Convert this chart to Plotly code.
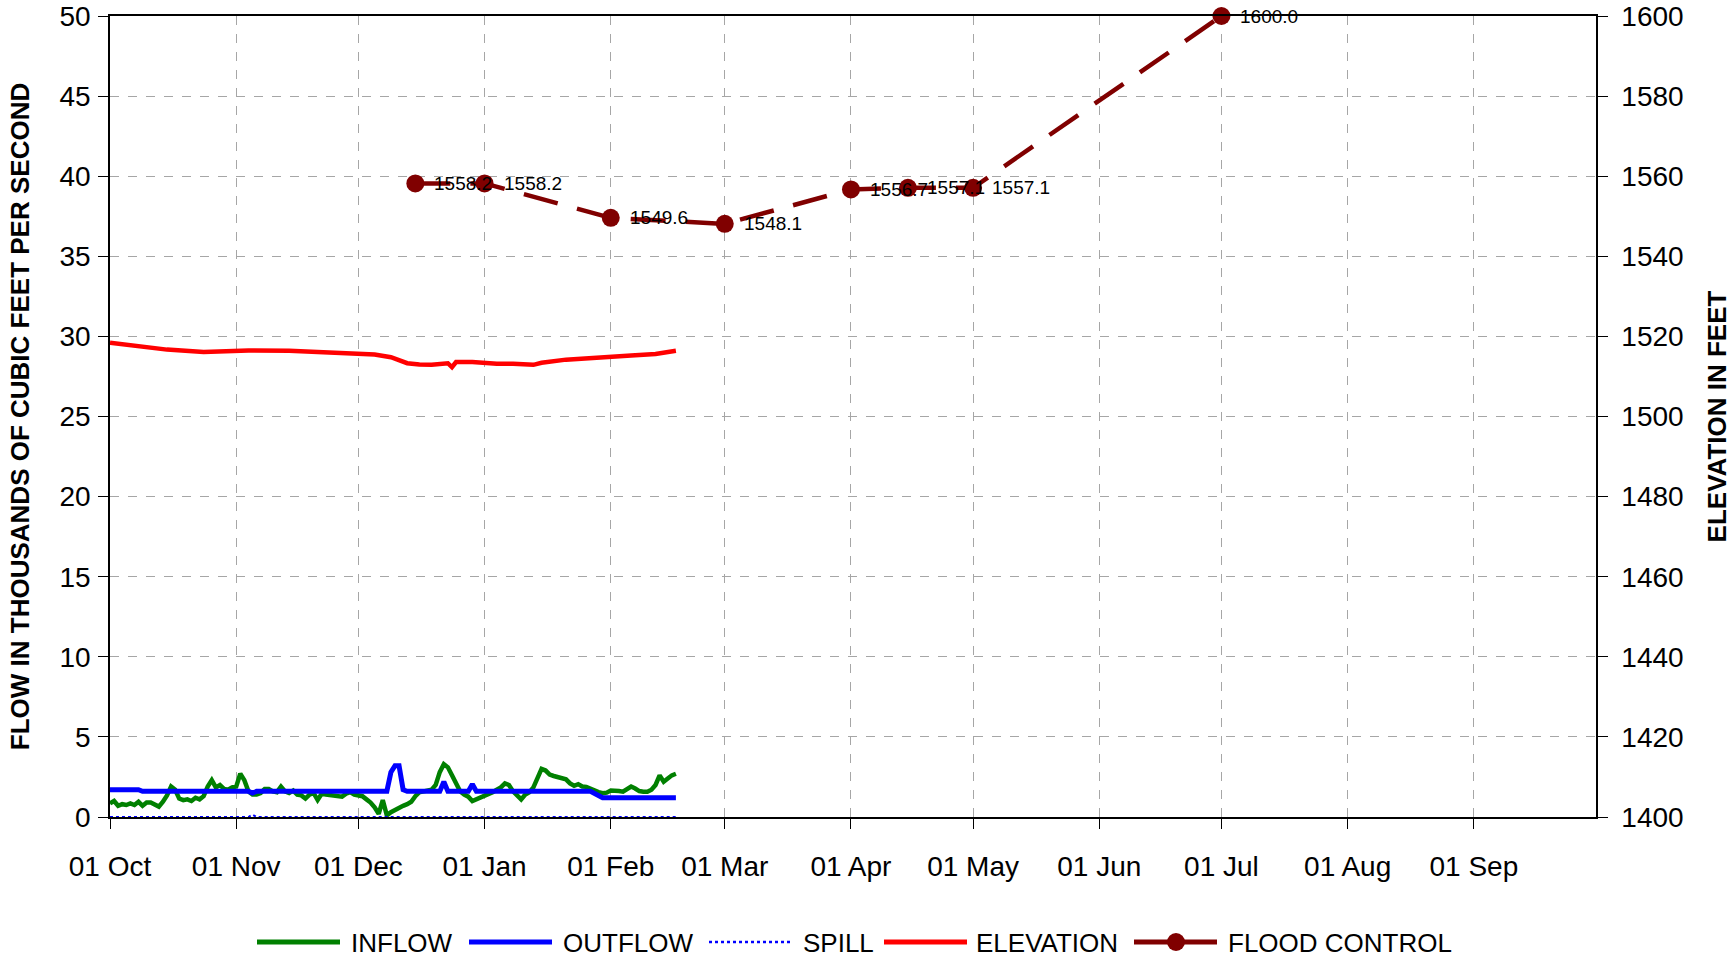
import pandas as pd
import plotly.graph_objects as go

# ---------------- data ----------------
inflow_start = "2014-10-01"
inflow = [
    0.85, 1.0, 0.7, 0.8, 0.75, 0.85, 0.75, 0.95, 0.7, 0.9,
    0.9, 0.75, 0.65, 0.95, 1.35, 1.9, 1.7, 1.15, 1.05, 1.1,
    1.0, 1.2, 1.1, 1.3, 1.9, 2.3, 1.85, 2.0, 1.75, 1.7,
    1.85, 1.9, 2.7, 2.3, 1.6, 1.4, 1.4, 1.5, 1.75, 1.75,
    1.6, 1.55, 1.9, 1.6, 1.5, 1.65, 1.4, 1.35, 1.15,
    1.4, 1.5, 1.06, 1.45, 1.4, 1.35, 1.3, 1.27, 1.27, 1.45, 1.55,
    1.4, 1.35, 1.3, 1.1, 0.9, 0.6, 0.2, 1.05, 0.1, 0.3,
    0.45, 0.55, 0.7, 0.8, 0.95, 1.3, 1.55, 1.6, 1.65, 1.7,
    2.0, 2.8, 3.3, 3.1, 2.6, 2.1, 1.6, 1.4, 1.27, 1.0,
    1.1, 1.2, 1.35, 1.4, 1.55, 1.7, 1.85, 2.1, 2.0, 1.6,
    1.3, 1.1, 1.4, 1.55, 1.85, 2.4, 3.0, 2.9, 2.65, 2.56,
    2.5, 2.45, 2.35, 2.1, 1.95, 2.05, 1.9, 1.88, 1.75, 1.62,
    1.55, 1.48, 1.52, 1.65, 1.66, 1.62, 1.58, 1.72, 1.9, 1.78,
    1.62, 1.58, 1.58, 1.7, 2.0, 2.6, 2.2, 2.4, 2.6, 2.7,
]

outflow_dates = [
    "2014-10-01", "2014-10-08", "2014-10-09", "2014-11-04", "2014-11-05",
    "2014-11-06", "2014-12-08", "2014-12-09", "2014-12-10", "2014-12-11",
    "2014-12-12", "2014-12-13", "2014-12-21", "2014-12-22", "2014-12-23",
    "2014-12-28", "2014-12-29", "2014-12-30", "2015-01-27", "2015-01-28",
    "2015-01-29", "2015-01-30", "2015-02-17",
]
outflow = [
    1.7, 1.7, 1.6, 1.6, 1.5,
    1.6, 1.6, 2.8, 3.2, 3.2,
    1.7, 1.6, 1.6, 2.2, 1.6,
    1.6, 2.05, 1.6, 1.6, 1.45,
    1.3, 1.2, 1.2,
]

spill_dates = ["2014-10-01", "2014-11-04", "2014-11-05", "2014-11-06", "2015-02-17"]
spill = [0.0, 0.0, 0.15, 0.0, 0.0]

elev_dates = [
    "2014-10-01", "2014-10-08", "2014-10-15", "2014-10-24", "2014-11-01",
    "2014-11-04", "2014-11-14", "2014-11-22", "2014-12-01", "2014-12-05",
    "2014-12-09", "2014-12-11", "2014-12-13", "2014-12-16", "2014-12-19",
    "2014-12-23", "2014-12-24", "2014-12-25", "2014-12-29", "2015-01-04",
    "2015-01-08", "2015-01-13", "2015-01-15", "2015-01-21", "2015-01-29",
    "2015-02-06", "2015-02-12", "2015-02-17",
]
elevation = [
    1518.4, 1517.5, 1516.7, 1516.1, 1516.25,
    1516.5, 1516.4, 1516.0, 1515.7, 1515.5,
    1514.8, 1514.0, 1513.3, 1513.0, 1512.9,
    1513.3, 1512.3, 1513.6, 1513.6, 1513.2,
    1513.2, 1512.9, 1513.4, 1514.2, 1514.6,
    1515.2, 1515.6, 1516.4,
]

flood_dates = ["2014-12-15", "2015-01-01", "2015-02-01", "2015-03-01",
               "2015-04-01", "2015-04-15", "2015-05-01", "2015-07-01"]
flood = [1558.2, 1558.2, 1549.6, 1548.1, 1556.7, 1557.1, 1557.1, 1600.0]

month_ticks = ["2014-10-01", "2014-11-01", "2014-12-01", "2015-01-01", "2015-02-01",
               "2015-03-01", "2015-04-01", "2015-05-01", "2015-06-01", "2015-07-01",
               "2015-08-01", "2015-09-01"]
x_range = ["2014-10-01", "2015-10-01"]
flow_range = [0, 50]
elev_range = [1400, 1600]

# ---------------- styling ----------------
FONT = "Liberation Sans, Arial, sans-serif"
W, H = 1732, 958
ML, MR, MT, MB = 110, 136, 16, 141
PW, PH = W - ML - MR, H - MT - MB

C_IN, C_OUT, C_EL, C_FC = "#008000", "#0000FF", "#FF0000", "#800000"

inflow_dates = pd.date_range(inflow_start, periods=len(inflow), freq="D")

fig = go.Figure()
fig.add_trace(go.Scatter(x=inflow_dates, y=inflow, name="INFLOW", mode="lines",
                         line=dict(color=C_IN, width=4.5)))
fig.add_trace(go.Scatter(x=outflow_dates, y=outflow, name="OUTFLOW", mode="lines",
                         line=dict(color=C_OUT, width=5)))
fig.add_trace(go.Scatter(x=spill_dates, y=spill, name="SPILL", mode="lines",
                         line=dict(color=C_OUT, width=2, dash="dot")))
fig.add_trace(go.Scatter(x=elev_dates, y=elevation, name="ELEVATION", mode="lines",
                         line=dict(color=C_EL, width=4.5), yaxis="y2"))
fig.add_trace(go.Scatter(x=flood_dates, y=flood, name="FLOOD CONTROL",
                         mode="lines+markers",
                         line=dict(color=C_FC, width=4.5, dash="35px,20px"),
                         marker=dict(color=C_FC, size=18),
                         yaxis="y2", cliponaxis=False))

# data labels for flood control points
for d, v in zip(flood_dates, flood):
    fig.add_annotation(x=d, y=v, xref="x", yref="y2", text=f"{v:.1f}",
                       showarrow=False, xanchor="left", yanchor="middle", xshift=17,
                       font=dict(family=FONT, size=19, color="black"))

# manual legend (long line samples like the original)
legend_items = [  # (name, color, dash, symbol start px, text start px)
    ("INFLOW", C_IN, "solid", 257, 349),
    ("OUTFLOW", C_OUT, "solid", 469, 561),
    ("SPILL", C_OUT, "dot", 709, 801),
    ("ELEVATION", C_EL, "solid", 884, 974),
    ("FLOOD CONTROL", C_FC, "solid", 1134, 1226),
]
LEG_Y = 942
def px_x(p):
    return (p - ML) / PW
def px_y(p):
    return (H - MB - p) / PH
for name, col, dash, sx, tx in legend_items:
    fig.add_shape(type="line", xref="paper", yref="paper",
                  x0=px_x(sx), x1=px_x(sx + 83), y0=px_y(LEG_Y), y1=px_y(LEG_Y),
                  line=dict(color=col, width=2.5 if dash == "dot" else 5, dash=dash))
    fig.add_annotation(xref="paper", yref="paper", x=px_x(tx), y=px_y(LEG_Y + 1),
                       text=name, showarrow=False, xanchor="left", yanchor="middle",
                       font=dict(family=FONT, size=26, color="black"))
fig.add_shape(type="circle", xref="paper", yref="paper", xsizemode="pixel",
              ysizemode="pixel", xanchor=px_x(1176), yanchor=px_y(LEG_Y),
              x0=-9, x1=9, y0=-9, y1=9, fillcolor=C_FC, line=dict(color=C_FC, width=0))

axis_common = dict(showline=True, linecolor="black", linewidth=1.5,
                   ticks="outside", ticklen=10, tickcolor="black",
                   tickfont=dict(family=FONT, size=28, color="black"),
                   zeroline=False, automargin=False)

fig.update_layout(
    width=W, height=H,
    margin=dict(l=ML, r=MR, t=MT, b=MB, autoexpand=False),
    paper_bgcolor="white", plot_bgcolor="white",
    font=dict(family=FONT, color="black"),
    showlegend=False,
    xaxis=dict(type="date", range=x_range, tickmode="array", tickvals=month_ticks,
               tickformat="%d %b", ticklabelstandoff=14, showgrid=True,
               gridcolor="#A6A6A6", griddash="dash", gridwidth=1, mirror=True,
               **axis_common),
    yaxis=dict(range=flow_range, dtick=5, showgrid=True, gridcolor="#A6A6A6",
               griddash="dash", gridwidth=1, ticklabelstandoff=2,
               title=dict(text="<b>FLOW IN THOUSANDS OF CUBIC FEET PER SECOND</b>",
                          font=dict(family=FONT, size=26, color="black"), standoff=22),
               **axis_common),
    yaxis2=dict(range=elev_range, dtick=20, overlaying="y", side="right", showgrid=False,
                ticklabelstandoff=8,
                title=dict(text="<b>ELEVATION IN FEET</b>",
                           font=dict(family=FONT, size=26, color="black"), standoff=32),
                **axis_common),
    # inner half of the crossing tick marks on the right axis
    yaxis3=dict(range=elev_range, dtick=20, overlaying="y", side="right", showgrid=False,
                showline=False, ticks="inside", ticklen=10, tickcolor="black",
                showticklabels=False, zeroline=False, automargin=False),
)

fig.write_html("out.html", config={"displayModeBar": False},
               post_script="document.body.style.margin='0';document.body.style.overflow='hidden';")
